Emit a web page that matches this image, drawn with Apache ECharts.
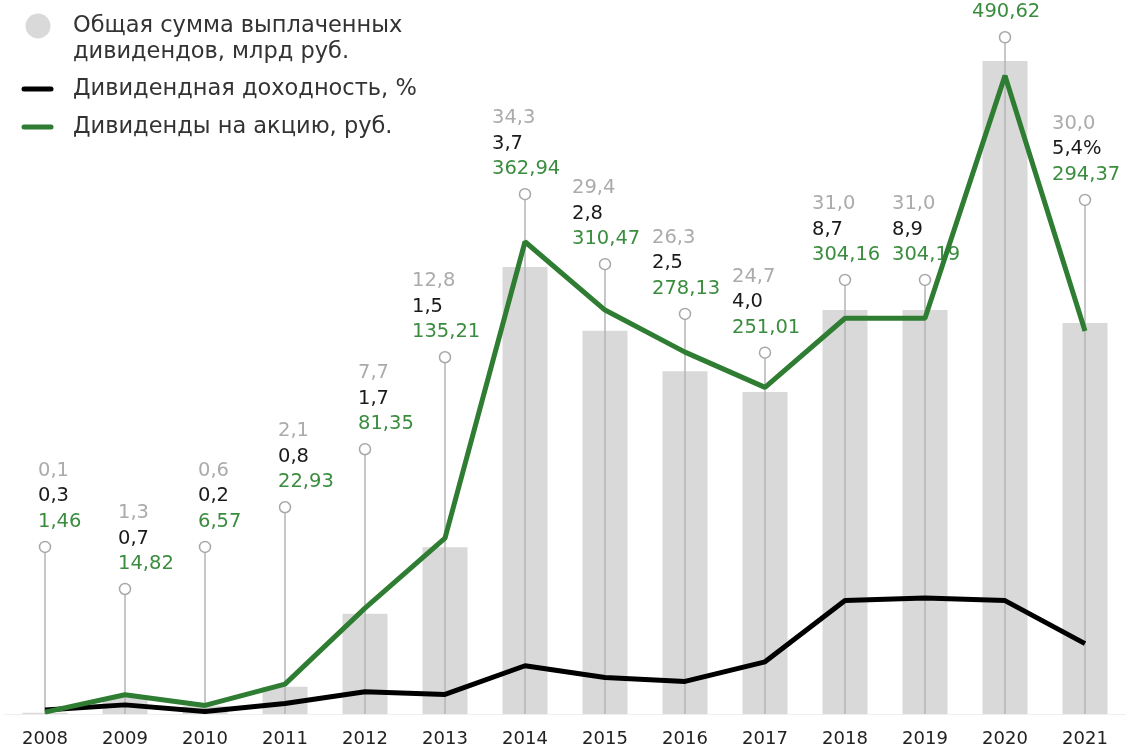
<!DOCTYPE html>
<html>
<head>
<meta charset="utf-8">
<script src="https://cdn.jsdelivr.net/npm/echarts@6/dist/echarts.min.js"></script>
<style>
html,body{margin:0;padding:0;background:#fff;}
#chart{width:1139px;height:749px;}
</style>
</head>
<body>
<div id="chart"></div>
<script>
// ---- data ----
const years = ['2008','2009','2010','2011','2012','2013','2014','2015','2016','2017','2018','2019','2020','2021'];
const totalDividends = [0.1, 1.3, 0.6, 2.1, 7.7, 12.8, 34.3, 29.4, 26.3, 24.7, 31.0, 31.0, 50.1, 30.0]; // млрд руб.
const dividendYield = [0.3, 0.7, 0.2, 0.8, 1.7, 1.5, 3.7, 2.8, 2.5, 4.0, 8.7, 8.9, 8.7, 5.4];          // %
const dividendPerShare = [1.46, 14.82, 6.57, 22.93, 81.35, 135.21, 362.94, 310.47, 278.13, 251.01, 304.16, 304.19, 490.62, 294.37]; // руб.
// height of the annotation stems, in units of the per-share axis
const stemTop = [128.4, 96.1, 128.4, 158.9, 203.5, 274.2, 399.5, 345.7, 307.5, 277.7, 333.6, 333.6, 520.1, 395.1];

const legendNames = ['Общая сумма выплаченных\nдивидендов, млрд руб.', 'Дивидендная доходность, %', 'Дивиденды на акцию, руб.'];

const FONT = 'DejaVu Sans';
const C_BAR = '#d9d9d9', C_GRAY_TXT = '#ababab', C_BLACK = '#000000', C_GREEN = '#2e7d32', C_GREEN_TXT = '#3a8d3e';

function fmt(v, d) { return v.toFixed(d).replace('.', ','); }

const chart = echarts.init(document.getElementById('chart'));

const option = {
  animation: false,
  backgroundColor: '#fff',
  grid: { left: 5, right: 14, top: 14, bottom: 35 },
  xAxis: {
    type: 'category', data: years, boundaryGap: true,
    axisLine: { lineStyle: { color: '#eeeeee', width: 1 } },
    axisTick: { show: false },
    axisLabel: { color: '#222', fontFamily: FONT, fontSize: 18, margin: 16 }
  },
  yAxis: [
    { type: 'value', min: 0, max: 53.7, show: false, splitLine: { show: false } },
    { type: 'value', min: 0, max: 538, show: false, splitLine: { show: false } }
  ],
  series: [
    {
      name: legendNames[0], type: 'bar', data: totalDividends, yAxisIndex: 0,
      barWidth: 45, itemStyle: { color: C_BAR }, z: 1
    },
    {
      name: 'stems', type: 'custom', yAxisIndex: 1, z: 2,
      data: stemTop.map((v, i) => [i, v]),
      renderItem: function (params, api) {
        const i = api.value(0);
        const base = api.coord([i, 0]);
        const top = api.coord([i, api.value(1)]);
        const x = base[0], y = top[1];
        const r = 5.5;
        const left = dividendPerShare[i] >= 100 ? x - 33 : x - 7;
        const isLast = i === years.length - 1;
        const lines = [
          { t: fmt(totalDividends[i], 1), c: C_GRAY_TXT, dy: 76 },
          { t: fmt(dividendYield[i], 1) + (isLast ? '%' : ''), c: '#1a1a1a', dy: 50.5 },
          { t: fmt(dividendPerShare[i], 2), c: C_GREEN_TXT, dy: 25 }
        ];
        const children = [
          { type: 'line', shape: { x1: x, y1: base[1], x2: x, y2: y + r }, style: { stroke: '#b5b5b5', lineWidth: 1.5 } },
          { type: 'circle', shape: { cx: x, cy: y, r: r }, style: { fill: '#fff', stroke: '#a8a8a8', lineWidth: 1.5 } }
        ];
        lines.forEach(l => children.push({
          type: 'text', x: left, y: y - l.dy,
          style: { text: l.t, fill: l.c, font: '19.5px "' + FONT + '"', textAlign: 'left', textVerticalAlign: 'middle' }
        }));
        return { type: 'group', children: children };
      }
    },
    {
      name: legendNames[1], type: 'line', data: dividendYield, yAxisIndex: 0,
      symbol: 'none', lineStyle: { color: C_BLACK, width: 5 }, itemStyle: { color: C_BLACK }, z: 3
    },
    {
      name: legendNames[2], type: 'line', data: dividendPerShare, yAxisIndex: 1,
      symbol: 'none', lineStyle: { color: C_GREEN, width: 5 }, itemStyle: { color: C_GREEN }, z: 4
    }
  ],
  graphic: [
    { type: 'circle', shape: { cx: 38, cy: 26, r: 12.5 }, style: { fill: C_BAR } },
    { type: 'text', x: 73, y: 13, style: { text: legendNames[0], fill: '#333', font: '22.5px "' + FONT + '"', lineHeight: 26, textVerticalAlign: 'top' } },
    { type: 'line', shape: { x1: 24, y1: 89, x2: 51, y2: 89 }, style: { stroke: C_BLACK, lineWidth: 5, lineCap: 'round' } },
    { type: 'text', x: 73, y: 89, style: { text: legendNames[1], fill: '#333', font: '22.5px "' + FONT + '"', textVerticalAlign: 'middle' } },
    { type: 'line', shape: { x1: 24, y1: 127, x2: 51, y2: 127 }, style: { stroke: C_GREEN, lineWidth: 5, lineCap: 'round' } },
    { type: 'text', x: 73, y: 127, style: { text: legendNames[2], fill: '#333', font: '22.5px "' + FONT + '"', textVerticalAlign: 'middle' } }
  ]
};
chart.setOption(option);
</script>
</body>
</html>
